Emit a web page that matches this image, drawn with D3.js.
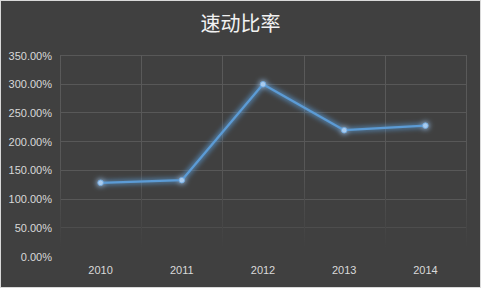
<!DOCTYPE html>
<html>
<head>
<meta charset="utf-8">
<script src="https://cdn.jsdelivr.net/npm/d3@7"></script>
<style>
  body { margin: 0; background: #fff; }
  svg { display: block; }
</style>
</head>
<body>
<svg id="chart" width="481" height="289"></svg>
<script>
const title = '速动比率'
const years = ['2010', '2011', '2012', '2013', '2014']
const quickRatio = [127.5, 132, 299, 219, 227]
const yTicks = [0, 50, 100, 150, 200, 250, 300, 350]

const width = 481
const height = 289
const margin = { top: 55, right: 15, bottom: 33, left: 60 }

const svg = d3.select('#chart')

// background + thin light border like the office export
svg.append('rect')
  .attr('x', 0.5).attr('y', 0.5)
  .attr('width', width - 1).attr('height', height - 2)
  .attr('fill', '#404040')
  .attr('stroke', '#d9d9d9')

const defs = svg.append('defs')
const fade = defs.append('linearGradient')
  .attr('id', 'fadeV')
  .attr('gradientUnits', 'userSpaceOnUse')
  .attr('x1', 0).attr('x2', 0)
  .attr('y1', margin.top).attr('y2', height - margin.bottom)
fade.append('stop').attr('offset', '0%').attr('stop-color', '#5a5a5a')
fade.append('stop').attr('offset', '55%').attr('stop-color', '#575757')
fade.append('stop').attr('offset', '96%').attr('stop-color', '#404040')

// soft blue halo round the series
const glow = defs.append('filter')
  .attr('id', 'glow')
  .attr('x', '-20%').attr('y', '-20%')
  .attr('width', '140%').attr('height', '140%')
glow.append('feMorphology')
  .attr('in', 'SourceGraphic')
  .attr('operator', 'dilate')
  .attr('radius', 1)
  .attr('result', 'fat')
glow.append('feGaussianBlur')
  .attr('in', 'fat')
  .attr('stdDeviation', 2.8)
  .attr('result', 'blur')
glow.append('feComponentTransfer')
  .attr('in', 'blur')
  .attr('result', 'halo')
  .append('feFuncA')
  .attr('type', 'linear')
  .attr('slope', 0.75)
const merge = glow.append('feMerge')
merge.append('feMergeNode').attr('in', 'halo')
merge.append('feMergeNode').attr('in', 'SourceGraphic')

const xScale = d3.scaleBand()
  .domain(years)
  .range([margin.left, width - margin.right])

const yScale = d3.scaleLinear()
  .domain([0, 350])
  .range([height - margin.bottom, margin.top])

// horizontal grid
svg.append('g')
  .selectAll('line')
  .data(yTicks.filter(d => d > 0))
  .join('line')
  .attr('x1', margin.left)
  .attr('x2', width - margin.right)
  .attr('y1', d => Math.round(yScale(d)) + 0.5)
  .attr('y2', d => Math.round(yScale(d)) + 0.5)
  .attr('stroke', d => d <= 50 ? '#4d4d4d' : '#585858')

// vertical grid (band edges), fading towards the bottom
const edges = years.map(y => xScale(y)).concat([width - margin.right])
svg.append('g')
  .selectAll('line')
  .data(edges)
  .join('line')
  .attr('x1', d => Math.round(d) + 0.5)
  .attr('x2', d => Math.round(d) + 0.5)
  .attr('y1', margin.top)
  .attr('y2', height - margin.bottom)
  .attr('stroke', 'url(#fadeV)')

const yAxis = d3.axisLeft(yScale)
  .tickValues(yTicks)
  .tickSize(0)
  .tickPadding(8)
  .tickFormat(d => `${d.toFixed(2)}%`)

function customYAxis (g) {
  g.call(yAxis)
  g.select('.domain').remove()
  g.selectAll('.tick text')
    .attr('dy', 4)
    .style('font-family', "'Liberation Sans', sans-serif")
    .style('font-size', '11px')
    .style('fill', '#d9d9d9')
}

const xAxis = d3.axisBottom(xScale)
  .tickSize(0)
  .tickPadding(10)

function customXAxis (g) {
  g.call(xAxis)
  g.select('.domain').remove()
  g.selectAll('.tick text')
    .attr('dy', 8)
    .style('font-family', "'Liberation Sans', sans-serif")
    .style('font-size', '11px')
    .style('fill', '#d9d9d9')
}

svg.append('g')
  .attr('transform', `translate(${margin.left},0)`)
  .call(customYAxis)

svg.append('g')
  .attr('transform', `translate(0,${height - margin.bottom})`)
  .call(customXAxis)

const points = years.map((y, i) => ({ year: y, value: quickRatio[i] }))

const lineGen = d3.line()
  .x(d => xScale(d.year) + xScale.bandwidth() / 2)
  .y(d => yScale(d.value))

const series = svg.append('g').attr('filter', 'url(#glow)')

series.append('path')
  .datum(points)
  .attr('d', lineGen)
  .attr('fill', 'none')
  .attr('stroke', '#5b9bd5')
  .attr('stroke-width', 2.25)
  .attr('stroke-linejoin', 'round')

series.selectAll('circle')
  .data(points)
  .join('circle')
  .attr('cx', d => xScale(d.year) + xScale.bandwidth() / 2)
  .attr('cy', d => yScale(d.value))
  .attr('r', 2.8)
  .attr('fill', '#a9cbee')
  .attr('stroke', '#6aa6de')
  .attr('stroke-width', 0.8)

svg.append('text')
  .attr('x', width / 2)
  .attr('y', 31)
  .attr('text-anchor', 'middle')
  .style('font-family', "'Noto Sans CJK SC', sans-serif")
  .style('font-size', '20px')
  .style('fill', '#f2f2f2')
  .text(title)
</script>
</body>
</html>
